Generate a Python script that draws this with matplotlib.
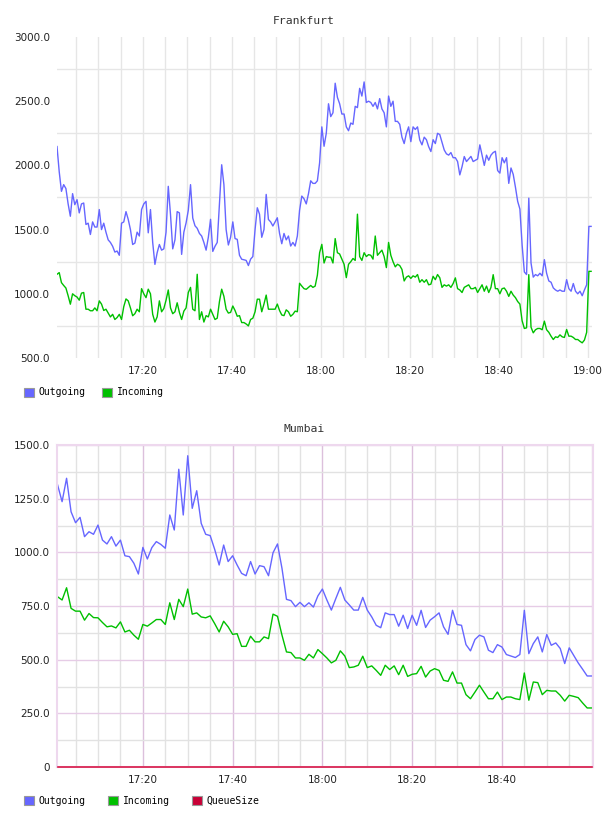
#!/usr/bin/env python3
"""
Traffic charts for Frankfurt and Mumbai (outgoing / incoming / queue size)
"""

import matplotlib
matplotlib.use('Agg')
import matplotlib.pyplot as plt
import matplotlib.dates as mdates
from matplotlib.patches import Patch
from matplotlib.ticker import FuncFormatter, FixedLocator
import numpy as np

# Frankfurt: one sample every 30 s starting 17:00:42
fra_start = '2024-01-01T17:00:42'
fra_step_s = 30
fra_out = [
    2147, 1950, 1798, 1850, 1820, 1700, 1604, 1780, 1694, 1733,
    1630, 1700, 1707, 1540, 1550, 1462, 1560, 1520, 1520, 1656,
    1500, 1550, 1480, 1420, 1400, 1370, 1325, 1333, 1300, 1550,
    1560, 1640, 1580, 1500, 1384, 1395, 1480, 1450, 1656, 1700,
    1720, 1475, 1656, 1400, 1229, 1320, 1384, 1340, 1350, 1480,
    1837, 1617, 1350, 1420, 1640, 1630, 1307, 1480, 1552, 1650,
    1850, 1590, 1530, 1510, 1470, 1450, 1400, 1340, 1440, 1580,
    1330, 1370, 1400, 1700, 2005, 1850, 1500, 1380, 1440, 1560,
    1430, 1424, 1300, 1269, 1265, 1260, 1220, 1270, 1290, 1500,
    1670, 1620, 1440, 1500, 1774, 1579, 1560, 1528, 1560, 1592,
    1470, 1390, 1470, 1420, 1450, 1372, 1400, 1372, 1450, 1650,
    1761, 1740, 1700, 1780, 1880, 1860, 1860, 1880, 2020, 2300,
    2149, 2250, 2480, 2380, 2410, 2640, 2530, 2480, 2400, 2400,
    2300, 2270, 2330, 2320, 2460, 2450, 2600, 2540, 2650, 2490,
    2500, 2490, 2460, 2490, 2440, 2520, 2440, 2410, 2300, 2540,
    2460, 2500, 2343, 2343, 2320, 2220, 2170, 2250, 2300, 2185,
    2300, 2280, 2300, 2198, 2160, 2220, 2200, 2146, 2108, 2200,
    2170, 2250, 2240, 2180, 2120, 2090, 2080, 2100, 2060, 2060,
    2030, 1926, 1990, 2069, 2030, 2050, 2070, 2030, 2040, 2050,
    2160, 2080, 2000, 2080, 2040, 2080, 2100, 2110, 1960, 1940,
    2060, 2020, 2060, 1860, 1980, 1930, 1830, 1720, 1660, 1380,
    1170, 1150, 1745, 1240, 1130, 1150, 1140, 1160, 1140, 1266,
    1160, 1100, 1090, 1046, 1030, 1020, 1030, 1020, 1020, 1110,
    1040, 1020, 1080, 1020, 1000, 1020, 985, 1030, 1070, 1525, 1525,
]
fra_in = [
    1152, 1165, 1087, 1065, 1045, 985, 919, 1000, 985, 975,
    950, 1005, 1010, 880, 880, 868, 868, 890, 868, 945,
    920, 870, 880, 850, 820, 840, 800, 815, 840, 800,
    900, 960, 945, 890, 829, 845, 880, 860, 1040, 1000,
    970, 1036, 1000, 840, 780, 820, 945, 860, 885, 950,
    1030, 890, 845, 860, 930, 855, 800, 865, 890, 1010,
    1050, 880, 868, 1152, 800, 860, 780, 830, 820, 880,
    840, 800, 810, 940, 1036, 980, 880, 850, 855, 905,
    870, 825, 830, 776, 776, 765, 750, 800, 810, 860,
    958, 958, 860, 920, 990, 880, 880, 880, 880, 920,
    870, 835, 830, 875, 860, 825, 840, 865, 860, 1082,
    1060, 1040, 1035, 1050, 1065, 1050, 1060, 1145, 1320, 1385,
    1240, 1290, 1285, 1285, 1240, 1430, 1320, 1310, 1270, 1230,
    1126, 1230, 1250, 1275, 1260, 1620, 1290, 1260, 1320, 1290,
    1305, 1300, 1270, 1450, 1300, 1320, 1340, 1290, 1204, 1400,
    1300, 1250, 1210, 1230, 1220, 1190, 1100, 1130, 1140, 1120,
    1140, 1130, 1150, 1090, 1110, 1090, 1110, 1070, 1075, 1136,
    1110, 1150, 1125, 1050, 1070, 1060, 1070, 1050, 1080, 1124,
    1040, 1030, 1010, 1050, 1060, 1070, 1040, 1040, 1050, 1010,
    1040, 1070, 1020, 1060, 1010, 1050, 1149, 1040, 1040, 1000,
    1040, 1045, 1020, 980, 1020, 990, 970, 940, 920, 790,
    730, 735, 1149, 740, 696, 720, 730, 730, 720, 787,
    720, 700, 670, 644, 665, 660, 680, 665, 660, 722,
    670, 670, 660, 644, 644, 630, 618, 640, 700, 1175, 1175,
]

# Mumbai: one sample per minute starting 17:01
mum_start = '2024-01-01T17:01:00'
mum_step_s = 60
mum_out = [
    1314, 1236, 1345, 1189, 1138, 1163, 1073, 1096, 1084, 1127,
    1057, 1039, 1073, 1029, 1057, 984, 980, 949, 899, 1023,
    969, 1022, 1050, 1037, 1019, 1174, 1104, 1387, 1174, 1450,
    1205, 1287, 1135, 1084, 1078, 1014, 941, 1034, 957, 984,
    941, 902, 891, 957, 899, 938, 933, 891, 998, 1039,
    925, 781, 775, 747, 767, 747, 765, 745, 797, 829,
    778, 731, 785, 837, 778, 755, 731, 731, 790, 731,
    699, 660, 649, 718, 710, 710, 656, 707, 645, 707,
    660, 730, 650, 684, 700, 718, 653, 618, 730, 664,
    660, 570, 541, 594, 614, 606, 544, 533, 570, 559,
    524, 517, 510, 524, 730, 528, 575, 606, 536, 617,
    567, 578, 552, 482, 555, 520, 485, 455, 424, 424,
]
mum_in = [
    793, 778, 835, 739, 726, 726, 684, 715, 696, 695,
    673, 653, 657, 648, 676, 629, 637, 614, 595, 664,
    656, 671, 687, 687, 664, 765, 687, 781, 747, 829,
    712, 718, 699, 695, 704, 668, 629, 679, 653, 618,
    621, 562, 562, 609, 583, 583, 606, 598, 712, 702,
    614, 536, 533, 508, 508, 497, 525, 508, 547, 528,
    508, 485, 497, 541, 517, 463, 466, 474, 516, 463,
    471, 450, 427, 474, 454, 471, 430, 474, 422, 432,
    435, 469, 419, 447, 458, 450, 404, 399, 443, 391,
    391, 337, 318, 349, 381, 349, 318, 318, 349, 314,
    326, 326, 318, 314, 438, 311, 396, 393, 337, 357,
    354, 354, 334, 307, 334, 329, 323, 298, 275, 275,
]
mum_queue = [0] * len(mum_out)

# Mumbai only labels the full 20-minute marks up to 18:40
mum_labels = ['17:20', '17:40', '18:00', '18:20', '18:40']

# Colours
c_out = '#6666ff'
c_in = '#00c000'
c_queue = '#d81848'

fra_times = np.datetime64(fra_start) + np.arange(len(fra_out)) * np.timedelta64(fra_step_s, 's')
mum_times = np.datetime64(mum_start) + np.arange(len(mum_out)) * np.timedelta64(mum_step_s, 's')

mono = 'DejaVu Sans Mono'
W, H = 608, 816

fig = plt.figure(figsize=(W / 100, H / 100), dpi=100)
ax1 = fig.add_axes([57 / W, 1 - 358 / H, 535 / W, 321 / H])
ax2 = fig.add_axes([57 / W, 1 - 767 / H, 536 / W, 322 / H])


def t(s):
    return mdates.date2num(np.datetime64(s))


# Frankfurt
ax1.plot(fra_times, fra_out, color=c_out, lw=1.0)
ax1.plot(fra_times, fra_in, color=c_in, lw=1.0)
ax1.set_ylim(500, 3000)
ax1.set_xlim(t('2024-01-01T17:00:42'), t('2024-01-01T19:00:54'))
ax1.set_yticks(np.arange(500, 3001, 500))
ax1.set_yticks(np.arange(750, 3000, 500), minor=True)
ax1.yaxis.set_major_formatter(FuncFormatter(lambda v, p: f'{v:.1f}'))
ax1.xaxis.set_major_locator(mdates.MinuteLocator(byminute=[0, 20, 40]))
ax1.grid(False, which='major', axis='y')
ax1.grid(True, which='minor', axis='y', color='#e6e6e6', lw=1)
ax1.grid(True, which='both', axis='x', color='#e6e6e6', lw=1)
for s in ax1.spines.values():
    s.set_visible(False)

# Mumbai
ax2.plot(mum_times, mum_out, color=c_out, lw=1.0)
ax2.plot(mum_times, mum_in, color=c_in, lw=1.0)
ax2.plot(mum_times, mum_queue, color=c_queue, lw=1.2, clip_on=False, zorder=5)
ax2.set_ylim(0, 1500)
ax2.set_xlim(t('2024-01-01T17:00:52'), t('2024-01-01T19:00:18'))
ax2.set_yticks(np.arange(0, 1501, 250))
ax2.set_yticks(np.arange(125, 1500, 250), minor=True)
ax2.yaxis.set_major_formatter(FuncFormatter(lambda v, p: '0' if v == 0 else f'{v:.1f}'))
ax2.xaxis.set_major_locator(FixedLocator([t('2024-01-01T' + s) for s in mum_labels]))
ax2.grid(True, which='major', axis='y', color='#e6cce6', lw=1)
ax2.grid(True, which='major', axis='x', color='#dcc0dc', lw=1)
ax2.grid(True, which='minor', color='#e2e2e2', lw=1)
for s in ax2.spines.values():
    s.set_color('#eed8ee')
    s.set_linewidth(1.5)

for ax in (ax1, ax2):
    ax.set_axisbelow(True)
    ax.xaxis.set_minor_locator(mdates.MinuteLocator(byminute=range(0, 60, 5)))
    ax.xaxis.set_major_formatter(mdates.DateFormatter('%H:%M'))
    ax.tick_params(which='both', length=0)
    ax.tick_params(axis='x', labelsize=7.5, colors='#222222', pad=6)
    ax.tick_params(axis='y', labelsize=7.5, colors='#222222', pad=5)

# Titles
fig.text(0.5, 1 - 20.5 / H, 'Frankfurt', ha='center', va='center',
         family=mono, size=8.2, color='#333333')
fig.text(0.5, 1 - 429 / H, 'Mumbai', ha='center', va='center',
         family=mono, size=8.2, color='#333333')

# Legends
edge = '#999999'
fig.legend(handles=[Patch(facecolor=c_out, edgecolor=edge, lw=0.8, label='Outgoing'),
                    Patch(facecolor=c_in, edgecolor=edge, lw=0.8, label='Incoming')],
           loc='center left', bbox_to_anchor=(24 / W, 1 - 392.5 / H), ncol=2,
           frameon=False, prop={'family': mono, 'size': 7}, handlelength=1.03,
           handleheight=1.03, handletextpad=0.5, columnspacing=1.65,
           borderpad=0, borderaxespad=0)
fig.legend(handles=[Patch(facecolor=c_out, edgecolor=edge, lw=0.8, label='Outgoing'),
                    Patch(facecolor=c_in, edgecolor=edge, lw=0.8, label='Incoming'),
                    Patch(facecolor='#c80036', edgecolor=edge, lw=0.8, label='QueueSize')],
           loc='center left', bbox_to_anchor=(24 / W, 1 - 800.5 / H), ncol=3,
           frameon=False, prop={'family': mono, 'size': 7}, handlelength=1.03,
           handleheight=1.03, handletextpad=0.5, columnspacing=2.25,
           borderpad=0, borderaxespad=0)

fig.savefig('out.png', dpi=100)
